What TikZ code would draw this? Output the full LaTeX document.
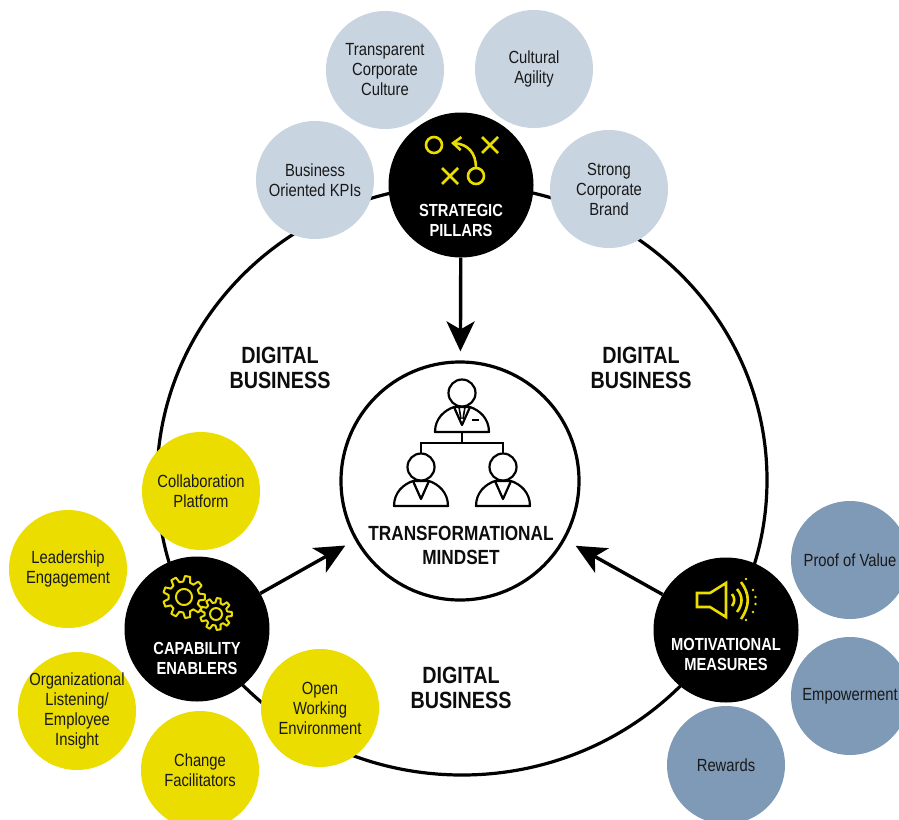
\documentclass[tikz,border=0pt]{standalone}
\usepackage{fontspec}
\setmainfont[FakeStretch=0.84]{Liberation Sans}
\usetikzlibrary{arrows.meta,shapes.geometric}
\definecolor{ylw}{HTML}{EBDD00}
\definecolor{pale}{HTML}{C9D4E1}
\definecolor{steel}{HTML}{7F9AB6}
\tikzset{
  sat/.style={circle,minimum size=118pt,inner sep=-12pt,align=center,font=\fontsize{17.6}{20}\selectfont,text=black!90},
  ysat/.style={sat,fill=ylw},
  psat/.style={sat,fill=pale},
  ssat/.style={sat,fill=steel},
  hub/.style={circle,fill=black,minimum size=145pt,inner sep=0pt},
  hublabel/.style={align=center,text=white,font=\fontsize{17.5}{20}\selectfont\bfseries},
  biglabel/.style={align=center,font=\fontsize{23.5}{25.5}\selectfont\bfseries,text=black!95},
  ring/.style={circle,draw=black,line width=3.2pt,inner sep=0pt},
  outerring/.style={ellipse,draw=black,line width=3.2pt,inner sep=0pt,minimum width=610pt,minimum height=590pt},
  flow/.style={-{Stealth[length=30pt,width=28pt,inset=8pt]},line width=3.4pt},
  icon/.style={draw=ylw,line width=2.6pt},
  line/.style={draw=black,line width=2.2pt}
}
\newcommand{\gearpath}[5]{% cx cy inner outer teeth
  \draw[icon,line width=2pt] (#1,#2) circle[radius=#3*0.52];
  \draw[icon,line width=2pt,line join=round] ({#1+#3*cos(-360/#5*0.32)},{#2+#3*sin(-360/#5*0.32)})
   \foreach \k in {1,...,#5}{
     -- ({#1+#4*cos(360/#5*(\k-1)-360/#5*0.18)},{#2+#4*sin(360/#5*(\k-1)-360/#5*0.18)})
     -- ({#1+#4*cos(360/#5*(\k-1)+360/#5*0.18)},{#2+#4*sin(360/#5*(\k-1)+360/#5*0.18)})
     -- ({#1+#3*cos(360/#5*(\k-1)+360/#5*0.32)},{#2+#3*sin(360/#5*(\k-1)+360/#5*0.32)})
     -- ({#1+#3*cos(360/#5*\k-360/#5*0.32)},{#2+#3*sin(360/#5*\k-360/#5*0.32)})
   } -- cycle;
}
\newcommand{\person}[2]{%
  \begin{scope}[shift={(#1,#2)}]
    \draw[line] (0,0) circle[radius=13.5];
    \draw[line,line join=round] (-27,39) -- (27,39) .. controls (27,25) and (17,17) .. (8,14) -- (-8,14) .. controls (-17,17) and (-27,25) .. cycle;
    \draw[line,line join=round] (-8,14) -- (0,32) -- (8,14);
  \end{scope}
}
\begin{document}
\begin{tikzpicture}[x=1pt,y=-1pt]
\useasboundingbox (0,0) rectangle (899,819);
\clip (0,0) rectangle (899,819);
\node[outerring] (outer) at (462,480) {};
\node[psat] (kpi) at (315,180) {Business\\Oriented KPIs};
\node[psat] (culture) at (385,70) {Transparent\\Corporate\\Culture};
\node[psat] (agility) at (534,69) {Cultural\\Agility};
\node[psat] (brand) at (609,189) {Strong\\Corporate\\Brand};
\node[ysat] (collab) at (201,491) {Collaboration\\Platform};
\node[ysat] (lead) at (68,569) {Leadership\\Engagement};
\node[ysat] (listen) at (77,711) {Organizational\\Listening/\\Employee\\Insight};
\node[ysat] (change) at (200,770) {Change\\Facilitators};
\node[ysat] (open) at (320,708) {Open\\Working\\Environment};
\node[ssat] (proof) at (850,560) {Proof of Value};
\node[ssat] (power) at (850,696) {Empowerment};
\node[ssat] (rewards) at (726,765) {Rewards};
\node[hub] (pillars) at (461,185) {};
\node[hub] (enablers) at (197,629) {};
\node[hub] (measures) at (726,630) {};
\node[ring,fill=white,minimum size=238pt] (mind) at (460,481) {};
\draw[flow,shorten >=9pt] (pillars) -- (mind);
\draw[flow,shorten >=11pt] (enablers) -- (mind);
\draw[flow,shorten >=12pt] (measures) -- (mind);
\node[hublabel] at (461,220) {STRATEGIC\\PILLARS};
\node[hublabel] at (197,658) {CAPABILITY\\ENABLERS};
\node[hublabel] at (726,654) {MOTIVATIONAL\\MEASURES};
\node[biglabel,font=\fontsize{20.5}{24}\selectfont\bfseries] at (461,545) {TRANSFORMATIONAL\\MINDSET};
\node[biglabel] at (280,368) {DIGITAL\\BUSINESS};
\node[biglabel] at (641,368) {DIGITAL\\BUSINESS};
\node[biglabel] at (461,688) {DIGITAL\\BUSINESS};
% strategic icon
\draw[icon] (434,145) circle[radius=8];
\draw[icon] (476,176) circle[radius=8];
\draw[icon] (482,137) -- (498,153) (498,137) -- (482,153);
\draw[icon] (442,168) -- (458,184) (458,168) -- (442,184);
\draw[icon,-{Straight Barb[length=8pt,width=13pt]}] (476,168) .. controls (476,153) and (468,144) .. (451,143);
% gears
\gearpath{184}{597}{15.5}{21}{9}
\gearpath{216}{614}{11.5}{16}{9}
% speaker
\draw[icon,line join=miter] (697,593) -- (710,593) -- (726,583) -- (726,617) -- (710,607) -- (697,607) -- cycle;
\draw[icon] (732,594) .. controls (735,598) and (735,602) .. (732,606);
\draw[icon] (737,589) .. controls (743,596) and (743,604) .. (737,612);
\draw[icon] (741,582) .. controls (750,594) and (750,606) .. (741,619);
\foreach \px/\py in {746/579,753/590,755.5/597,755.5/604,753/612,746/620} \fill[ylw] (\px,\py) circle[radius=1.3];
% org chart
\person{421}{467}
\person{503}{467}
\begin{scope}[shift={(462,393)}]
  \draw[line] (0,0) circle[radius=13.5];
  \draw[line,line join=round] (-27,39) -- (27,39) .. controls (27,25) and (17,17) .. (8,14) -- (-8,14) .. controls (-17,17) and (-27,25) .. cycle;
  \draw[line,line join=round] (-8,14) -- (0,32) -- (8,14);
  \draw[line,line width=1.6pt] (-3,14) -- (-1,26) (3,14) -- (1,26);
  \draw[line] (10,27) -- (17,27);
\end{scope}
\draw[line] (462,432) -- (462,443) (421,453.5) -- (421,443) -- (503,443) -- (503,453.5);
\end{tikzpicture}
\end{document}
